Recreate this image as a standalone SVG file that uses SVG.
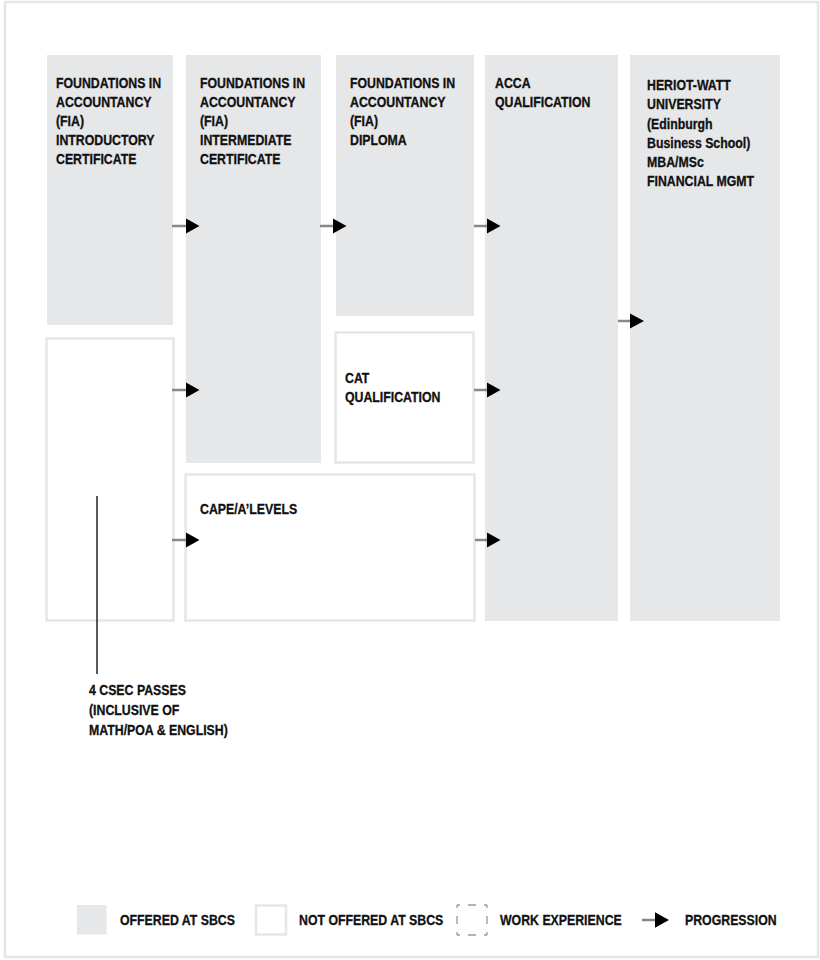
<svg xmlns="http://www.w3.org/2000/svg" width="820" height="960" viewBox="0 0 820 960">
<style>
.frame{fill:#ffffff;stroke:#e6e6e6;stroke-width:2.5}
.off{fill:#e6e7e9}
.not{fill:#ffffff;stroke:#e6e6e6;stroke-width:2.5}
.t{font-family:"Liberation Sans","Arial",sans-serif;font-weight:bold;font-size:14.5px;fill:#111111;stroke:#111111;stroke-width:0.3}
.stub{stroke:#888888;stroke-width:2.5;fill:none}
.head{fill:#000000}
.lead{stroke:#000000;stroke-width:1.3;fill:none}
.work{fill:none;stroke:#999999;stroke-width:1.3;stroke-dasharray:3 8 8 8 3 0}
</style>
<rect class="frame" x="5" y="2" width="813" height="955"/>

<g id="node-fia-intro">
<rect class="off" x="47" y="55" width="126" height="270"/>
<text class="t" transform="translate(56 0) scale(0.85 1)"><tspan x="0" y="88">FOUNDATIONS IN</tspan><tspan x="0" y="107">ACCOUNTANCY</tspan><tspan x="0" y="126">(FIA)</tspan><tspan x="0" y="145">INTRODUCTORY</tspan><tspan x="0" y="164">CERTIFICATE</tspan></text>
</g>

<g id="node-fia-intermediate">
<rect class="off" x="186" y="55" width="135" height="408"/>
<text class="t" transform="translate(200 0) scale(0.85 1)"><tspan x="0" y="88">FOUNDATIONS IN</tspan><tspan x="0" y="107">ACCOUNTANCY</tspan><tspan x="0" y="126">(FIA)</tspan><tspan x="0" y="145">INTERMEDIATE</tspan><tspan x="0" y="164">CERTIFICATE</tspan></text>
</g>

<g id="node-fia-diploma">
<rect class="off" x="336" y="55" width="138" height="261"/>
<text class="t" transform="translate(350 0) scale(0.85 1)"><tspan x="0" y="88">FOUNDATIONS IN</tspan><tspan x="0" y="107">ACCOUNTANCY</tspan><tspan x="0" y="126">(FIA)</tspan><tspan x="0" y="145">DIPLOMA</tspan></text>
</g>

<g id="node-acca">
<rect class="off" x="485" y="55" width="133" height="566"/>
<text class="t" transform="translate(495 0) scale(0.85 1)"><tspan x="0" y="88">ACCA</tspan><tspan x="0" y="107">QUALIFICATION</tspan></text>
</g>

<g id="node-heriot-watt">
<rect class="off" x="630" y="55" width="150" height="566"/>
<text class="t" transform="translate(647 0) scale(0.85 1)"><tspan x="0" y="90">HERIOT-WATT</tspan><tspan x="0" y="109.3">UNIVERSITY</tspan><tspan x="0" y="128.6">(Edinburgh</tspan><tspan x="0" y="147.9">Business School)</tspan><tspan x="0" y="167.2">MBA/MSc</tspan><tspan x="0" y="186.5">FINANCIAL MGMT</tspan></text>
</g>

<g id="node-cat">
<rect class="not" x="335.5" y="332.5" width="138" height="130"/>
<text class="t" transform="translate(345 0) scale(0.85 1)"><tspan x="0" y="383">CAT</tspan><tspan x="0" y="402">QUALIFICATION</tspan></text>
</g>

<g id="node-cape">
<rect class="not" x="185.5" y="474.5" width="289" height="146"/>
<text class="t" transform="translate(200 0) scale(0.85 1)"><tspan x="0" y="514">CAPE/A’LEVELS</tspan></text>
</g>

<g id="node-csec">
<rect class="not" x="46.5" y="338.5" width="127" height="282"/>
<line class="lead" x1="97" y1="496" x2="97" y2="674"/>
<text class="t" transform="translate(89 0) scale(0.85 1)"><tspan x="0" y="695">4 CSEC PASSES</tspan><tspan x="0" y="715">(INCLUSIVE OF</tspan><tspan x="0" y="735">MATH/POA &amp; ENGLISH)</tspan></text>
</g>

<g id="connectors">
<line class="stub" x1="172" y1="226" x2="187" y2="226"/><polygon class="head" points="186,218.5 199.5,226 186,233.5"/>
<line class="stub" x1="320" y1="226" x2="334" y2="226"/><polygon class="head" points="333,218.5 346.5,226 333,233.5"/>
<line class="stub" x1="474" y1="226" x2="488" y2="226"/><polygon class="head" points="487,218.5 500.5,226 487,233.5"/>
<line class="stub" x1="172" y1="390" x2="187" y2="390"/><polygon class="head" points="186,382.5 199.5,390 186,397.5"/>
<line class="stub" x1="474" y1="390" x2="488" y2="390"/><polygon class="head" points="487,382.5 500.5,390 487,397.5"/>
<line class="stub" x1="172" y1="540" x2="187" y2="540"/><polygon class="head" points="186,532.5 199.5,540 186,547.5"/>
<line class="stub" x1="475" y1="540" x2="488" y2="540"/><polygon class="head" points="487,532.5 500.5,540 487,547.5"/>
<line class="stub" x1="618" y1="321" x2="631" y2="321"/><polygon class="head" points="630,313.5 644,321 630,328.5"/>
</g>

<g id="legend">
<rect class="off" x="77" y="905" width="29.5" height="29.5"/>
<text class="t" transform="translate(120 0) scale(0.85 1)" x="0" y="925">OFFERED AT SBCS</text>
<rect class="not" x="256" y="905.5" width="30" height="29"/>
<text class="t" transform="translate(299 0) scale(0.85 1)" x="0" y="925">NOT OFFERED AT SBCS</text>
<rect class="work" x="457" y="905" width="30" height="30"/>
<text class="t" transform="translate(500 0) scale(0.85 1)" x="0" y="925">WORK EXPERIENCE</text>
<line class="stub" x1="642" y1="920" x2="656" y2="920"/><polygon class="head" points="655,912.3 669,920 655,927.7"/>
<text class="t" transform="translate(685 0) scale(0.85 1)" x="0" y="925">PROGRESSION</text>
</g>
</svg>
